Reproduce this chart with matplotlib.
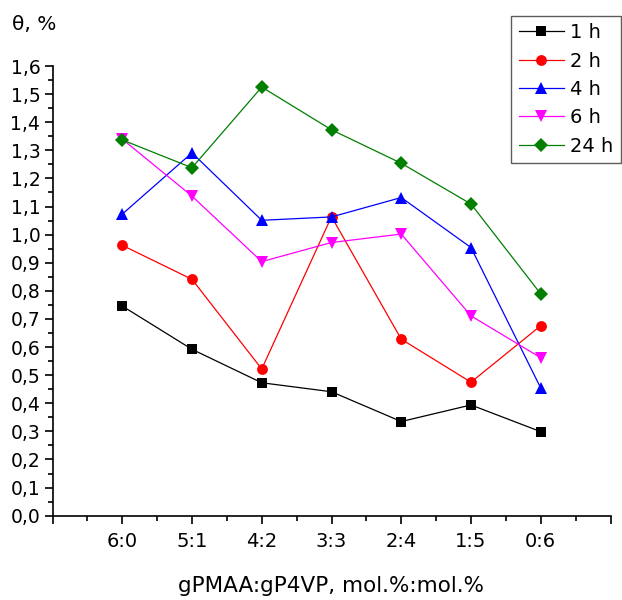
import numpy as np
import matplotlib
matplotlib.use("Agg")
import matplotlib.pyplot as plt
from matplotlib.ticker import MultipleLocator, FuncFormatter

# the reference text is wide, DejaVu Sans fits its size better than Arial
plt.rcParams["font.family"] = ["DejaVu Sans"]

ratios = ["6:0", "5:1", "4:2", "3:3", "2:4", "1:5", "0:6"]

theta_1h = [0.746, 0.592, 0.473, 0.441, 0.335, 0.394, 0.299]
theta_2h = [0.962, 0.841, 0.522, 1.064, 0.628, 0.475, 0.676]
theta_4h = [1.073, 1.291, 1.051, 1.063, 1.132, 0.954, 0.454]
theta_6h = [1.340, 1.137, 0.904, 0.972, 1.002, 0.711, 0.562]
theta_24h = [1.337, 1.238, 1.525, 1.373, 1.254, 1.109, 0.789]

series_labels = ["1 h", "2 h", "4 h", "6 h", "24 h"]

styles = [
    dict(color="black", marker="s", ms=7.3),
    dict(color="#ff0000", marker="o", ms=7.8),
    dict(color="#0000ff", marker="^", ms=9),
    dict(color="#ff00ff", marker="v", ms=9),
    dict(color="#007f00", marker="D", ms=7.5),
]

fig = plt.figure(figsize=(6.22, 6.0), dpi=100)
ax = fig.add_axes([52.5 / 622, 84.3 / 600, (610.5 - 52.5) / 622, (515.7 - 66) / 600])

x = np.arange(1, len(ratios) + 1)
all_series = [theta_1h, theta_2h, theta_4h, theta_6h, theta_24h]

for values, label, st in zip(all_series, series_labels, styles):
    ax.plot(
        x,
        values,
        color=st["color"],
        marker=st["marker"],
        markersize=st["ms"],
        linewidth=0.9,
        markeredgewidth=0,
        label=label,
    )

ax.set_xlim(0, 8)
ax.set_ylim(0, 1.6)

ax.set_xticks(np.arange(0, 9))
ax.set_xticklabels([""] + ratios + [""])
ax.xaxis.set_minor_locator(MultipleLocator(0.5))

ax.yaxis.set_major_locator(MultipleLocator(0.1))
ax.yaxis.set_minor_locator(MultipleLocator(0.05))
ax.yaxis.set_major_formatter(FuncFormatter(lambda v, p: f"{v:.1f}".replace(".", ",")))

ax.spines["top"].set_visible(False)
ax.spines["right"].set_visible(False)
ax.spines["left"].set_linewidth(1.2)
ax.spines["bottom"].set_linewidth(1.2)

ax.tick_params(axis="both", which="major", direction="out", length=5.8, width=1.2)
ax.tick_params(axis="both", which="minor", direction="out", length=3.5, width=1.2)
ax.tick_params(axis="x", which="major", pad=6, labelsize=14)
ax.tick_params(axis="y", which="major", pad=3, labelsize=13.5)

ax.set_xlabel("gPMAA:gP4VP, mol.%:mol.%", fontsize=15.5, labelpad=18)
fig.text(12 / 622, 1 - 24 / 600, "θ, %", fontsize=14.5, va="center", ha="left")

leg = ax.legend(
    loc="upper right",
    bbox_to_anchor=(620.5 / 622, 1 - 16 / 600),
    bbox_transform=fig.transFigure,
    fontsize=14,
    frameon=True,
    fancybox=False,
    handlelength=2.35,
    handletextpad=0.3,
    labelspacing=0.48,
    borderpad=0.37,
    borderaxespad=0,
)
leg.get_frame().set_edgecolor("#333333")
leg.get_frame().set_linewidth(1.0)

fig.savefig("out.png", dpi=100)
